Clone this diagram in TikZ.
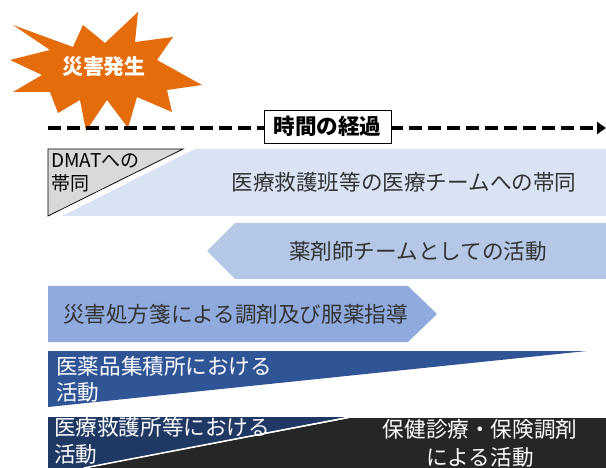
\documentclass[tikz,border=0pt]{standalone}
\usepackage{fontspec}
\setmainfont{Noto Sans CJK JP}
\usetikzlibrary{arrows.meta,positioning}
\definecolor{burst}{RGB}{228,108,10}
\definecolor{teamlight}{RGB}{218,227,243}
\definecolor{pharmteam}{RGB}{180,199,231}
\definecolor{dispense}{RGB}{143,170,220}
\definecolor{depot}{RGB}{47,85,151}
\definecolor{aidpost}{RGB}{32,56,100}
\definecolor{insured}{RGB}{38,38,38}
\definecolor{labelgray}{RGB}{51,51,51}

\begin{document}
\begin{tikzpicture}[x=1pt,y=-1pt,
    lbl/.style={inner sep=0pt,font=\fontsize{21.6}{26}\selectfont},
    band/.style={draw=none}]
    \useasboundingbox (0,0) rectangle (606,468);

    \fill[burst] (13,25) -- (73,47) -- (83,25) -- (105,43) -- (138,12) -- (135,42)
        -- (173,37) -- (157,60) -- (202,85) -- (167,90) -- (172,112) -- (137,97)
        -- (128,128) -- (107,100) -- (86,131) -- (80,100) -- (58,113) -- (50,92)
        -- (13,92) -- (42,75) -- (10,60) -- (50,50) -- cycle;
    \node[lbl,text=white,font=\bfseries\fontsize{21}{21}\selectfont] (hassei) at (104,67) {災害発生};

    \coordinate (tstart) at (48,128);
    \coordinate (tend) at (606,128);
    \draw[line width=4pt,dash pattern=on 13pt off 6pt,-{Triangle[length=9pt,width=12pt]}] (tstart) -- (tend);
    \node[draw,fill=white,line width=0.8pt,minimum width=127pt,minimum height=33pt,inner sep=0pt,
        font=\bfseries\fontsize{21.6}{26}\selectfont] (keika) at (327.5,126.5) {時間の経過};

    \fill[teamlight] (195,149) -- (606,149) -- (606,216) -- (62,216) -- cycle;
    \filldraw[fill=black!15,draw=black,line width=0.75pt] (48,149) -- (183,149) -- (48,216) -- cycle;
    \node[lbl,anchor=north west,align=left,font=\fontsize{19}{23}\selectfont] (dmat) at (51,153) {DMATへの\\帯同};
    \node[lbl,text=labelgray] (iryo) at (404,182) {医療救護班等の医療チームへの帯同};

    \fill[pharmteam] (235,223) -- (606,223) -- (606,279) -- (235,279) -- (207,251) -- cycle;
    \node[lbl,text=labelgray] (yakuzaishi) at (418,251) {薬剤師チームとしての活動};

    \fill[dispense] (48,286) -- (408,286) -- (437,314) -- (408,342) -- (48,342) -- cycle;
    \node[lbl,text=labelgray] (shohosen) at (235.5,314) {災害処方箋による調剤及び服薬指導};

    \fill[depot] (48,351) -- (587,351) -- (48,407) -- cycle;
    \node[lbl,text=white,anchor=west,align=left] (shuseki) at (56,379) {医薬品集積所における\\活動};

    \fill[aidpost] (48,417) -- (347,417) -- (82,468) -- (48,468) -- cycle;
    \fill[insured] (350,418) -- (606,418) -- (606,468) -- (86,468) -- cycle;
    \draw[white,line width=1.5pt] (348,417.5) -- (84,468);
    \node[lbl,text=white,anchor=west,align=left,font=\fontsize{21.6}{27}\selectfont] (kyugosho) at (54,441) {医療救護所等における\\活動};
    \node[lbl,text=white,align=center,font=\fontsize{21.6}{28}\selectfont] (hoken) at (480,443.5) {保健診療・保険調剤\\による活動};
\end{tikzpicture}
\end{document}
